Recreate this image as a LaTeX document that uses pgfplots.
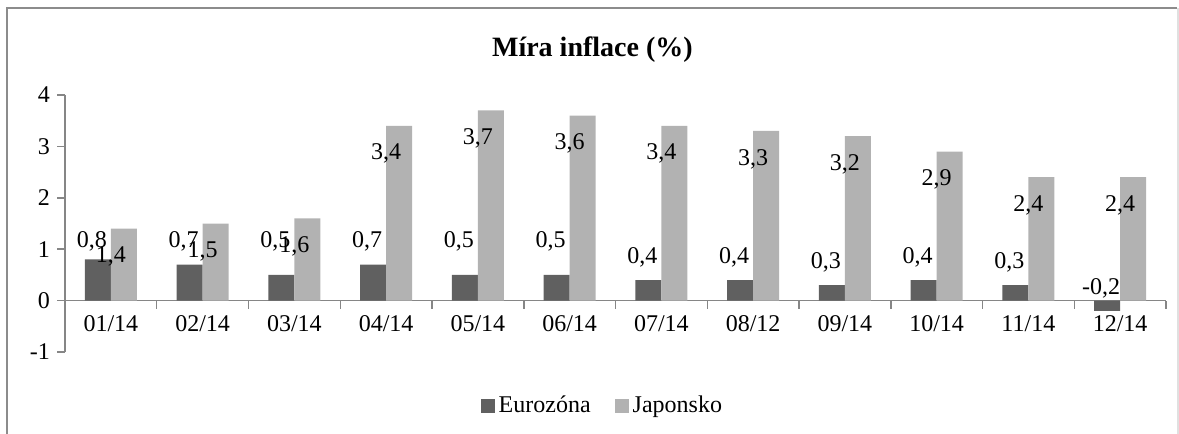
\documentclass[border=0pt]{standalone}
\usepackage{fontspec}
\setmainfont{Liberation Serif}
\usepackage{pgfplots}
\usepackage{pgfplotstable}
\pgfplotsset{compat=1.18}
\definecolor{euro}{HTML}{606060}
\definecolor{jap}{HTML}{B2B2B2}
\definecolor{axgray}{HTML}{868686}
\definecolor{bordergray}{HTML}{8C8C8C}
\definecolor{lightborder}{HTML}{E0E0E0}

\pgfplotstableread{
x eu eulab eupos jp jplab
0 0.8 0,8 1.146 1.4 1,4
1 0.7 0,7 1.146 1.5 1,5
2 0.5 0,5 1.146 1.6 1,6
3 0.7 0,7 1.146 3.4 3,4
4 0.5 0,5 1.146 3.7 3,7
5 0.5 0,5 1.146 3.6 3,6
6 0.4 0,4 0.835 3.4 3,4
7 0.4 0,4 0.835 3.3 3,3
8 0.3 0,3 0.738 3.2 3,2
9 0.4 0,4 0.835 2.9 2,9
10 0.3 0,3 0.738 2.4 2,4
11 -0.2 -0,2 0.233 2.4 2,4
}\data

\begin{document}
\begin{tikzpicture}[font=\fontsize{12}{14.4}\selectfont]
\path[use as bounding box] (0,0) rectangle (589.5pt,217pt);
\begin{axis}[
  at={(32.5pt,41pt)}, anchor=south west,
  scale only axis, width=550.5pt, height=128.5pt,
  xmin=-0.5, xmax=11.5, ymin=-1, ymax=4,
  axis y line=left, axis x line=middle,
  axis line style={axgray, line width=0.75pt, -},
  clip=false,
  xtick={0,...,11},
  xticklabels={01/14,02/14,03/14,04/14,05/14,06/14,07/14,08/12,09/14,10/14,11/14,12/14},
  minor xtick={-0.5,0.5,...,11.5},
  major x tick style={draw=none},
  minor x tick style={axgray, line width=0.75pt},
  ytick={-1,0,1,2,3,4},
  yticklabels={-1,0,1,2,3,4},
  y tick style={axgray, line width=0.75pt},
  tick align=outside,
  major tick length=4pt, minor tick length=4pt,
  title={Míra inflace (\%)},
  every axis title/.style={at={(0.479,1.175)}, anchor=center, font=\fontsize{14}{16.8}\selectfont\bfseries},
  legend style={draw=none, at={(0.489,-0.21)}, anchor=center, legend columns=2,
    /tikz/every even column/.append style={column sep=10pt}, inner sep=0pt},
  legend cell align=left,
]
\addplot[ybar, bar width=13pt, bar shift=-6.5pt, fill=euro, draw=none,
  legend image code/.code={\fill[euro] (0pt,-3.5pt) rectangle (7pt,3.5pt);}]
  table[x=x, y=eu] \data;
\addlegendentry{Eurozóna}
\addplot[ybar, bar width=13pt, bar shift=6.5pt, fill=jap, draw=none,
  nodes near coords, point meta=explicit symbolic,
  every node near coord/.append style={anchor=center, yshift=-14pt, text=black},
  legend image code/.code={\fill[jap] (0pt,-3.5pt) rectangle (7pt,3.5pt);}]
  table[x=x, y=jp, meta=jplab] \data;
\addlegendentry{Japonsko}
\addplot[draw=none, mark=none, forget plot,
  nodes near coords, point meta=explicit symbolic,
  every node near coord/.append style={anchor=center, xshift=-9.5pt, text=black}]
  table[x=x, y=eupos, meta=eulab] \data;
\end{axis}
\draw[bordergray, line width=1pt] (3.5pt,0) -- (3.5pt,212.75pt) -- (588.5pt,212.75pt);
\draw[lightborder, line width=0.75pt] (588.9pt,212.75pt) -- (588.9pt,0);
\end{tikzpicture}
\end{document}
